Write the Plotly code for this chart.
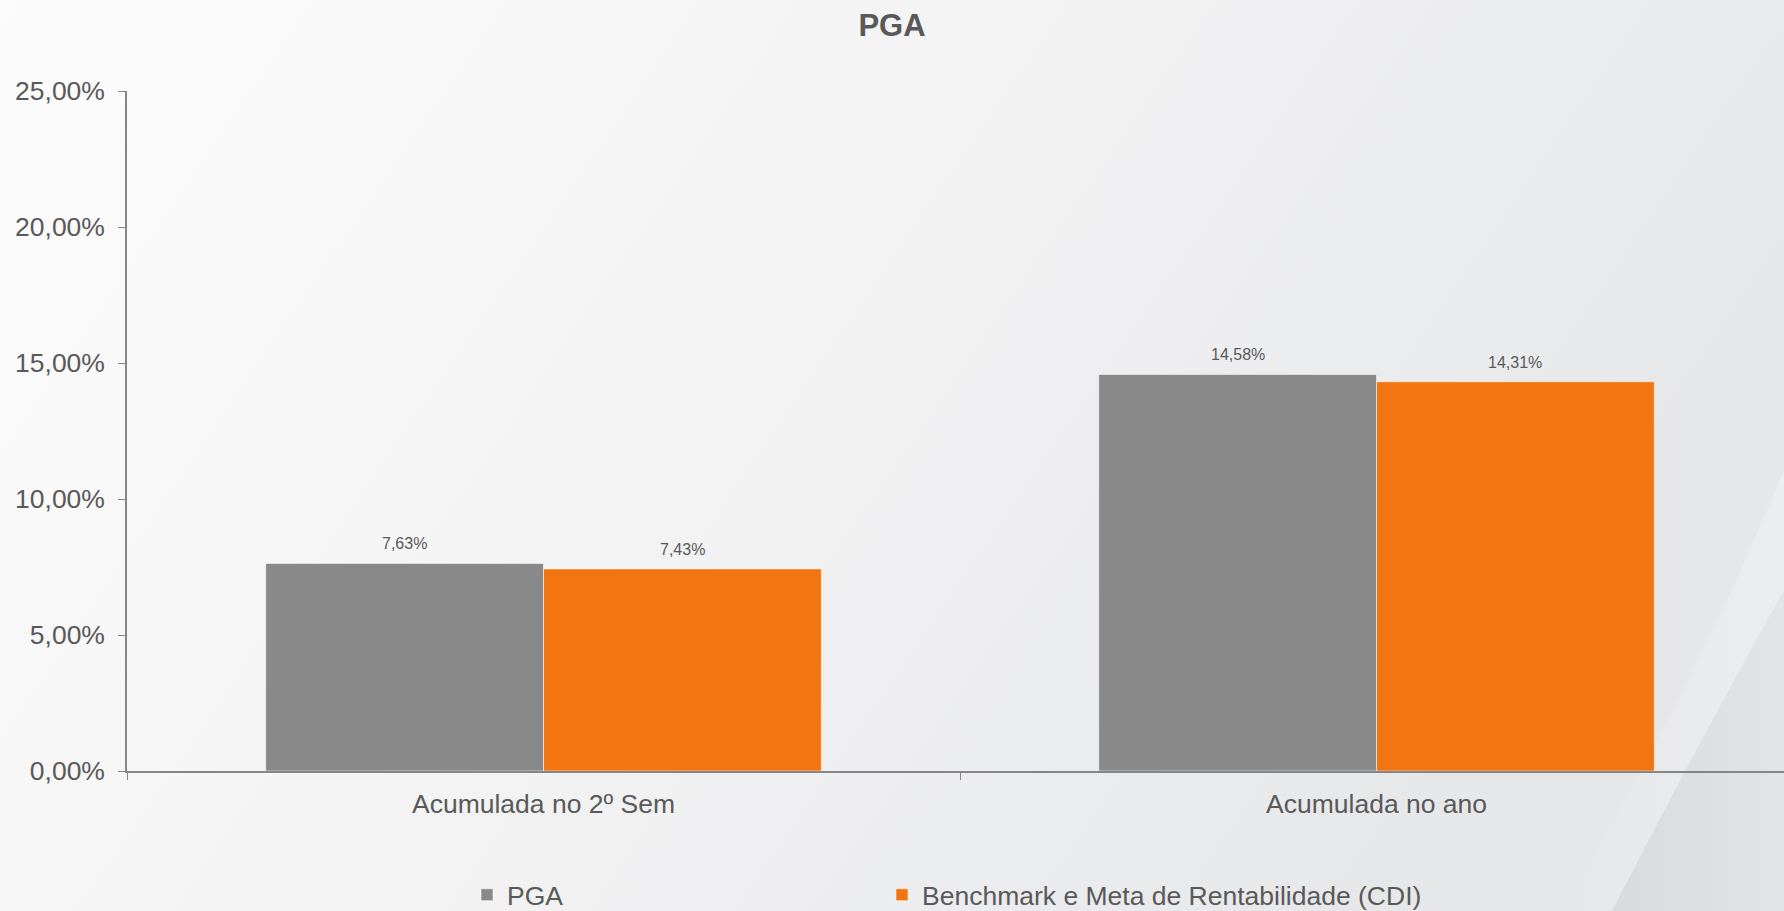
import base64
import plotly.graph_objects as go

# ---- data ----
categories = ["Acumulada no 2º Sem", "Acumulada no ano"]
pga_values = [7.63, 14.58]
cdi_values = [7.43, 14.31]
series_names = ["PGA", "Benchmark e Meta de Rentabilidade (CDI)"]
y_ticks = [0, 5, 10, 15, 20, 25]


def pct(v):
    return f"{v:.2f}%".replace(".", ",")


W, H = 1784, 911
ML, MR, MT, MB = 127, 0, 91, 140
PW, PH = W - ML - MR, H - MT - MB

TEXT = "#595959"
AXIS = "#868686"
FONT = "Liberation Sans, Arial, sans-serif"
BARGAP = 0.333
X_RANGE = [-0.5, 1.5 - 9 / (PW / 2)]

svg = f"""<svg xmlns='http://www.w3.org/2000/svg' width='{W}' height='{H}' viewBox='0 0 {W} {H}' preserveAspectRatio='none'>
<defs>
<linearGradient id='g' x1='0' y1='0' x2='1' y2='0.35'>
<stop offset='0' stop-color='#fcfcfd'/><stop offset='0.5' stop-color='#f3f3f4'/><stop offset='1' stop-color='#e6e7e9'/></linearGradient>
<linearGradient id='s' x1='0' y1='0' x2='1' y2='0'>
<stop offset='0' stop-color='#d9dadc'/><stop offset='1' stop-color='#e3e4e6'/></linearGradient>
<linearGradient id='h' x1='0' y1='0' x2='1' y2='0'>
<stop offset='0' stop-color='#ffffff' stop-opacity='0'/><stop offset='1' stop-color='#ffffff' stop-opacity='0.25'/></linearGradient>
</defs>
<rect width='{W}' height='{H}' fill='url(#g)'/>
<path d='M1784,470 Q1690,700 1560,911 L1612,911 Q1700,740 1784,590 Z' fill='url(#h)'/>
<path d='M1784,590 Q1700,740 1612,911 L1784,911 Z' fill='url(#s)'/>
</svg>"""
bg_uri = "data:image/svg+xml;base64," + base64.b64encode(svg.encode()).decode()

fig = go.Figure()
fig.add_trace(go.Bar(
    x=categories, y=pga_values, name=series_names[0], legendwidth=370,
    marker=dict(color="#898989", line=dict(color="rgba(255,255,255,0.55)", width=1)),
))
fig.add_trace(go.Bar(
    x=categories, y=cdi_values, name=series_names[1], legendwidth=540,
    marker=dict(color="#F27512", line=dict(color="rgba(255,255,255,0.55)", width=1)),
))

# value labels above each bar
cat_px = PW / (X_RANGE[1] - X_RANGE[0])
bar_px = cat_px * (1 - BARGAP) / 2
annotations = []
for vals, sign in ((pga_values, -1), (cdi_values, 1)):
    for c, v in zip(categories, vals):
        annotations.append(dict(
            x=c, y=v, xref="x", yref="y", text=pct(v), showarrow=False,
            xanchor="center", yanchor="bottom", xshift=sign * bar_px / 2, yshift=9,
            font=dict(size=16, color=TEXT, family=FONT),
        ))

fig.update_layout(
    width=W, height=H,
    margin=dict(l=ML, r=MR, t=MT, b=MB),
    paper_bgcolor="white",
    plot_bgcolor="rgba(0,0,0,0)",
    separators=",.",
    barmode="group",
    bargap=BARGAP,
    bargroupgap=0,
    font=dict(family=FONT, color=TEXT, size=26.5),
    title=dict(text="<b>PGA</b>", x=0.5, xref="container", xanchor="center",
               y=1 - 25 / H, yref="container", yanchor="middle",
               font=dict(size=31, color=TEXT, family=FONT)),
    showlegend=True,
    legend=dict(orientation="h", xref="paper", x=(467 - ML) / PW, xanchor="left",
                yref="container", y=1 - 895 / H, yanchor="middle",
                font=dict(size=26.5, color=TEXT, family=FONT),
                bgcolor="rgba(0,0,0,0)", traceorder="normal"),
    annotations=annotations,
    images=[dict(source=bg_uri, xref="paper", yref="paper",
                 x=-ML / PW, y=1 + MT / PH, sizex=W / PW, sizey=H / PH,
                 xanchor="left", yanchor="top", sizing="stretch", layer="below")],
)

fig.update_xaxes(
    type="category", range=X_RANGE,
    showline=True, linecolor=AXIS, linewidth=1.5,
    ticks="outside", tickson="boundaries", ticklen=7, tickcolor=AXIS, tickwidth=1,
    showgrid=False, zeroline=False,
    tickfont=dict(size=26.5, color=TEXT, family=FONT),
    ticklabelstandoff=8,
)
fig.update_yaxes(
    range=[0, 25], tickvals=y_ticks, ticktext=[pct(v) for v in y_ticks],
    showline=True, linecolor=AXIS, linewidth=1.5,
    ticks="outside", ticklen=7, tickcolor=AXIS, tickwidth=1,
    showgrid=False, zeroline=False,
    tickfont=dict(size=26.5, color=TEXT, family=FONT),
    ticklabelstandoff=8,
)

fig.write_html("out.html", config={"displayModeBar": False},
               post_script="document.body.style.margin='0';")
